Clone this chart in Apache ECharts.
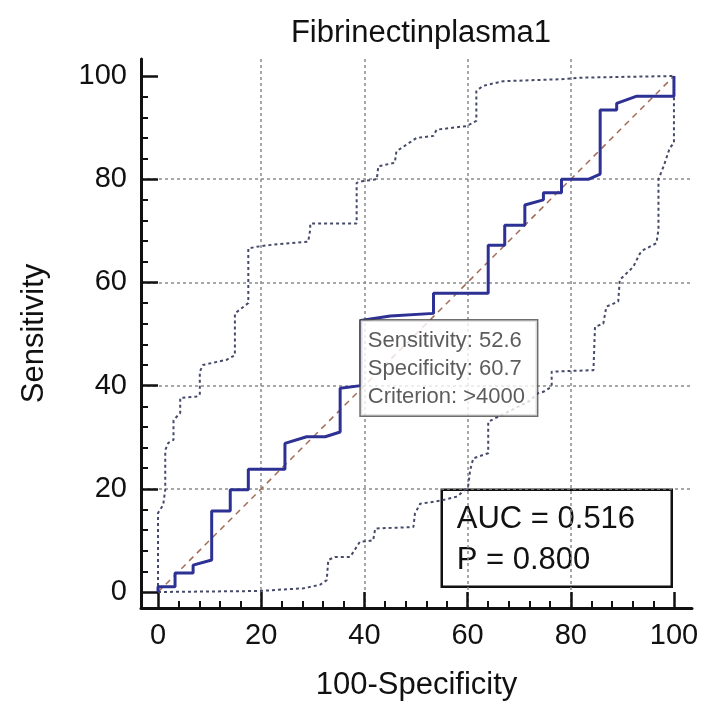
<!DOCTYPE html>
<html>
<head>
<meta charset="utf-8">
<script src="https://cdn.jsdelivr.net/npm/echarts@6/dist/echarts.min.js"></script>
<style>
html,body{margin:0;padding:0;background:#fff;}
#chart{width:704px;height:702px;}
</style>
</head>
<body>
<div id="chart"></div>
<script>
const titleText = 'Fibrinectinplasma1';
const xAxisName = '100-Specificity';
const yAxisName = 'Sensitivity';
const xTicks = [0, 20, 40, 60, 80, 100];
const yTicks = [0, 20, 40, 60, 80, 100];

// ROC curve (100-Specificity, Sensitivity)
const rocX = [0, 0, 3.3, 3.3, 6.8, 6.8, 10.4, 10.4, 14, 14, 17.5, 17.5, 24.6, 24.6, 28.8, 32.4, 35.3, 35.3, 39.3, 39.3, 45, 53.4, 53.4, 64, 64, 67.2, 67.2, 71.1, 71.1, 74.7, 74.7, 78.2, 78.2, 83.5, 85.7, 85.7, 88.9, 88.9, 92.8, 100, 100];
const rocY = [0, 1, 1, 3.7, 3.7, 5.2, 6.2, 15.7, 15.7, 19.8, 19.8, 23.8, 23.8, 28.8, 30.1, 30.1, 31, 39.5, 40, 52.6, 53.5, 54, 57.9, 57.9, 67.2, 67.2, 71.1, 71.1, 75, 76, 77.4, 77.4, 80, 80, 81, 93.4, 93.4, 94.7, 96.1, 96.1, 100];

// Upper confidence bound
const upperX = [0, 0, 1, 1.4, 1.4, 2, 3, 3, 4.3, 4.3, 7.5, 8.1, 8.1, 8.7, 11.4, 13.3, 14.9, 14.9, 16.2, 17.5, 17.5, 19.1, 21.1, 29.1, 29.5, 29.5, 37.2, 38.5, 38.5, 39.5, 42.4, 42.7, 45.9, 46.2, 50.1, 53.4, 54, 59.8, 61.7, 61.7, 63, 66.9, 78.6, 82.4, 100];
const upperY = [0, 15.3, 16.9, 19.8, 27.5, 28.9, 29.5, 33.3, 34.7, 37.6, 37.9, 38.2, 42.7, 44, 44.6, 45, 45.9, 54, 55, 56, 66.6, 66.9, 67.2, 67.9, 70.2, 71.4, 71.4, 71.4, 79.3, 79.6, 80, 82.5, 83.2, 85.4, 88, 88.4, 89.6, 90.3, 91.3, 97.1, 98.1, 99, 99.4, 99.7, 100];

// Lower confidence bound
const lowerX = [0, 19.8, 24.3, 28.1, 31.4, 32.7, 33, 34.3, 37.2, 37.9, 39.1, 41.7, 42.1, 49.5, 49.8, 50.8, 54.7, 58, 60.1, 60.5, 61.1, 64, 64, 72, 73.6, 74.7, 76.3, 76.3, 84.4, 84.7, 86.3, 86.9, 89.2, 89.5, 92.1, 93.4, 94.1, 96.6, 97, 97, 98, 99.2, 100, 100];
const lowerY = [0, 0.2, 0.5, 0.7, 1.4, 2.3, 6.2, 6.8, 6.8, 7.8, 9.7, 10, 12.3, 12.6, 15.2, 17.1, 17.7, 18.5, 20.4, 23.6, 25.9, 26.9, 33, 37, 38.5, 38.8, 39.8, 42.7, 43, 51.4, 52, 55.3, 56.3, 60.5, 63, 65.6, 66.3, 67.6, 70.2, 80, 82.5, 86.1, 87, 100];

const diagX = [0, 100];
const diagY = [0, 100];

const cutSensitivity = 52.6;
const cutSpecificity = 60.7;
const cutCriterion = '>4000';
const aucValue = '0.516';
const pValue = '0.800';

const zip = (xs, ys) => xs.map((x, i) => [x, ys[i]]);
const FONT = 'Liberation Sans, Arial, sans-serif';
const INK = '#111';
const X_MIN = -3.3, X_MAX = 103.5, Y_MIN = -3.1, Y_MAX = 103.3;

const chart = echarts.init(document.getElementById('chart'), null, {renderer: 'canvas'});

const gridLine = {show: true, showMinLine: false, showMaxLine: false, lineStyle: {color: '#8a8a8a', width: 1.5, type: [3, 3]}};
const minorTick = {show: true, splitNumber: 5, length: 7, lineStyle: {color: INK, width: 2}};

const option = {
  backgroundColor: '#ffffff',
  animation: false,
  title: {
    text: titleText, left: 416, top: 13, textAlign: 'center',
    textStyle: {fontFamily: FONT, fontSize: 31, fontWeight: 'normal', color: INK}
  },
  grid: {left: 141, right: 12, top: 59, bottom: 94, containLabel: false, outerBoundsMode: 'none'},
  xAxis: {
    type: 'value', min: X_MIN, max: X_MAX, position: 'bottom',
    name: xAxisName, nameLocation: 'middle', nameGap: 62,
    nameTextStyle: {fontFamily: FONT, fontSize: 31, color: INK},
    axisLine: {show: true, onZero: false, lineStyle: {color: INK, width: 3}},
    axisTick: {show: true, inside: true, length: 16, customValues: xTicks, lineStyle: {color: INK, width: 2.5}},
    minorTick: minorTick,
    axisLabel: {show: true, customValues: xTicks, margin: 13, fontFamily: FONT, fontSize: 29, color: INK},
    splitLine: gridLine
  },
  yAxis: {
    type: 'value', min: Y_MIN, max: Y_MAX, position: 'left',
    name: yAxisName, nameLocation: 'middle', nameGap: 91, nameRotate: 90,
    nameTextStyle: {fontFamily: FONT, fontSize: 31, color: INK},
    axisLine: {show: true, onZero: false, lineStyle: {color: INK, width: 3}},
    axisTick: {show: true, inside: true, length: 17, customValues: yTicks, lineStyle: {color: INK, width: 2.5}},
    minorTick: minorTick,
    axisLabel: {show: true, customValues: yTicks, margin: 14, fontFamily: FONT, fontSize: 29, color: INK},
    splitLine: gridLine
  },
  series: [
    {name: 'reference', type: 'line', data: zip(diagX, diagY), symbol: 'none', z: 3, lineStyle: {color: '#a56b55', width: 1.5, type: [6, 5]}},
    {name: 'upper', type: 'line', data: zip(upperX, upperY), symbol: 'none', z: 4, lineStyle: {color: '#454a6a', width: 2, type: [3, 3]}},
    {name: 'lower', type: 'line', data: zip(lowerX, lowerY), symbol: 'none', z: 4, lineStyle: {color: '#454a6a', width: 2, type: [3, 3]}},
    {name: 'roc', type: 'line', data: zip(rocX, rocY), symbol: 'none', z: 6, lineStyle: {color: '#2d3194', width: 3}},
    {
      name: 'criterion', type: 'scatter', symbolSize: 0, z: 8,
      data: [[100 - cutSpecificity, cutSensitivity]],
      label: {
        show: true, position: [0, 0], align: 'left', verticalAlign: 'top',
        formatter: 'Sensitivity: ' + cutSensitivity.toFixed(1) + '\nSpecificity: ' + cutSpecificity.toFixed(1) + '\nCriterion: ' + cutCriterion,
        fontFamily: FONT, fontSize: 22, lineHeight: 28, color: '#333',
        backgroundColor: '#ffffff', borderColor: '#4a4a4a', borderWidth: 1.5, padding: [6, 12, 5, 7]
      }
    }
  ],
  graphic: [
    {
      type: 'group', right: 31, bottom: 114, z: 100,
      children: [
        {type: 'rect', shape: {x: 0, y: 0, width: 230, height: 97}, style: {fill: '#ffffff', stroke: INK, lineWidth: 2.5}},
        {type: 'text', x: 15, y: 9, style: {text: 'AUC = ' + aucValue + '\nP = ' + pValue, font: '31px ' + FONT, fill: INK, lineHeight: 41}}
      ]
    }
  ]
};
chart.setOption(option);
</script>
</body>
</html>
